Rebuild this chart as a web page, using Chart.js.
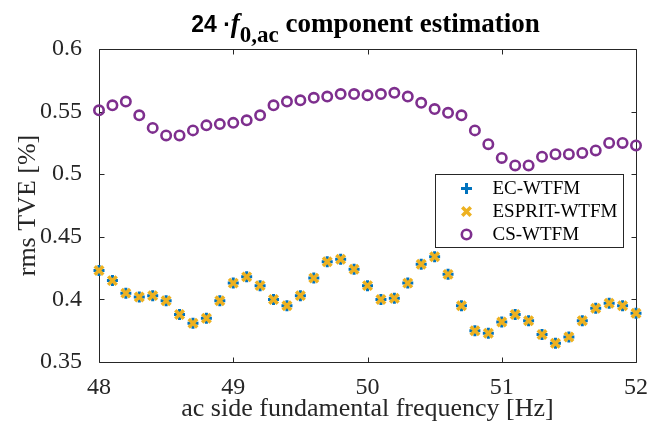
<!DOCTYPE html>
<html>
<head>
<meta charset="utf-8">
<title>24 ·f0,ac component estimation</title>
<script src="https://cdn.jsdelivr.net/npm/chart.js@4.4.1/dist/chart.umd.min.js"></script>
<style>
  html, body { margin: 0; padding: 0; background: #fff; }
  #wrap { position: relative; width: 672px; height: 426px; }
  #chart-title {
    position: absolute; left: 0; top: 10px; width: 731px;
    text-align: center; white-space: nowrap; color: #000;
    font: bold 27px/26px "Liberation Serif", "Times New Roman", serif;
  }
  #chart-title .num { font-family: "Liberation Sans", Arial, sans-serif; font-size: 23px; }
  #chart-title i { font-style: italic; }
  #chart-title sub { font-size: 23px; line-height: 0; vertical-align: -10px; }
  #chart-tve { position: absolute; left: 0; top: 0; }
</style>
</head>
<body>
<div id="wrap">
  <canvas id="chart-tve" width="672" height="426"></canvas>
  <div id="chart-title"><span class="num">24 ·</span><i>f</i><sub>0,ac</sub> component estimation</div>
</div>
<script>
(function () {
  var freqHz = [48.0, 48.1, 48.2, 48.3, 48.4, 48.5, 48.6, 48.7, 48.8, 48.9,
    49.0, 49.1, 49.2, 49.3, 49.4, 49.5, 49.6, 49.7, 49.8, 49.9,
    50.0, 50.1, 50.2, 50.3, 50.4, 50.5, 50.6, 50.7, 50.8, 50.9,
    51.0, 51.1, 51.2, 51.3, 51.4, 51.5, 51.6, 51.7, 51.8, 51.9, 52.0];

  // rms TVE [%]
  var ecWtfm = [0.423, 0.415, 0.405, 0.402, 0.403, 0.399, 0.388, 0.381, 0.385, 0.399,
    0.413, 0.418, 0.411, 0.400, 0.395, 0.403, 0.417, 0.430, 0.432, 0.424,
    0.411, 0.400, 0.401, 0.413, 0.428, 0.434, 0.420, 0.395, 0.375, 0.373,
    0.382, 0.388, 0.383, 0.372, 0.365, 0.370, 0.383, 0.393, 0.397, 0.395, 0.389];
  var espritWtfm = [0.423, 0.415, 0.405, 0.402, 0.403, 0.399, 0.388, 0.381, 0.385, 0.399,
    0.413, 0.418, 0.411, 0.400, 0.395, 0.403, 0.417, 0.430, 0.432, 0.424,
    0.411, 0.400, 0.401, 0.413, 0.428, 0.434, 0.420, 0.395, 0.375, 0.373,
    0.382, 0.388, 0.383, 0.372, 0.365, 0.370, 0.383, 0.393, 0.397, 0.395, 0.389];
  var csWtfm = [0.551, 0.555, 0.558, 0.547, 0.537, 0.531, 0.531, 0.535, 0.539, 0.540,
    0.541, 0.543, 0.547, 0.555, 0.558, 0.559, 0.561, 0.562, 0.564, 0.564,
    0.563, 0.564, 0.565, 0.562, 0.557, 0.552, 0.549, 0.547, 0.535, 0.524,
    0.513, 0.507, 0.507, 0.514, 0.516, 0.516, 0.517, 0.519, 0.525, 0.525, 0.523];

  var seriesNames = ["EC-WTFM", "ESPRIT-WTFM", "CS-WTFM"];
  var xTickValues = [48, 49, 50, 51, 52];
  var xTickLabels = ["48", "49", "50", "51", "52"];
  var yTickValues = [0.35, 0.4, 0.45, 0.5, 0.55, 0.6];
  var yTickLabels = ["0.35", "0.4", "0.45", "0.5", "0.55", "0.6"];

  var serif = '"Liberation Serif", "Times New Roman", serif';
  var axisColor = "#262626";

  var markerStyles = [
    { pointStyle: "cross", radius: 5.5, borderWidth: 3, color: "#0072BD", order: 3 },
    { pointStyle: "crossRot", radius: 6, borderWidth: 3.5, color: "#EDB120", order: 2 },
    { pointStyle: "circle", radius: 4.7, borderWidth: 2.6, color: "#7E2F8E", order: 1 },
  ];

  function toPoints(ys) {
    return freqHz.map(function (x, i) {
      return { x: x, y: ys[i] };
    });
  }

  function makeDataset(i, values) {
    var s = markerStyles[i];
    return {
      label: seriesNames[i],
      data: toPoints(values),
      pointStyle: s.pointStyle,
      pointRadius: s.radius,
      pointHoverRadius: s.radius,
      pointBorderWidth: s.borderWidth,
      pointHoverBorderWidth: s.borderWidth,
      borderColor: s.color,
      pointBorderColor: s.color,
      pointBackgroundColor: "rgba(0,0,0,0)",
      showLine: false,
      clip: false,
      order: s.order,
    };
  }

  // matlab style box with inward ticks on all four sides
  var boxPlugin = {
    id: "boxAxes",
    beforeDatasetsDraw: function (chart) {
      var ctx = chart.ctx;
      var a = chart.chartArea;
      var xs = chart.scales.x;
      var ys = chart.scales.y;
      var tl = 5;
      var l = Math.round(a.left) + 0.5, r = Math.round(a.right) + 0.5;
      var t = Math.round(a.top) + 0.5, b = Math.round(a.bottom) + 0.5;
      ctx.save();
      ctx.strokeStyle = axisColor;
      ctx.lineWidth = 1;
      ctx.beginPath();
      ctx.rect(l, t, r - l, b - t);
      xs.ticks.forEach(function (tk) {
        var px = Math.round(xs.getPixelForValue(tk.value)) + 0.5;
        ctx.moveTo(px, b); ctx.lineTo(px, b - tl);
        ctx.moveTo(px, t); ctx.lineTo(px, t + tl);
      });
      ys.ticks.forEach(function (tk) {
        var py = Math.round(ys.getPixelForValue(tk.value)) + 0.5;
        ctx.moveTo(l, py); ctx.lineTo(l + tl, py);
        ctx.moveTo(r, py); ctx.lineTo(r - tl, py);
      });
      ctx.stroke();
      ctx.restore();
    },
  };

  var legendPlugin = {
    id: "insideLegend",
    afterDatasetsDraw: function (chart) {
      var ctx = chart.ctx;
      var a = chart.chartArea;
      var w = 188, h = 73;
      var x0 = Math.round(a.right) - 13 - w + 0.5;
      var y0 = Math.round(a.top) + 125 + 0.5;
      var rows = [14, 37, 60];
      ctx.save();
      ctx.fillStyle = "#fff";
      ctx.strokeStyle = axisColor;
      ctx.lineWidth = 1;
      ctx.fillRect(x0, y0, w, h);
      ctx.strokeRect(x0, y0, w, h);
      ctx.font = "19px " + serif;
      ctx.textAlign = "left";
      ctx.textBaseline = "middle";
      seriesNames.forEach(function (name, i) {
        var s = markerStyles[i];
        var cy = y0 + rows[i];
        ctx.strokeStyle = s.color;
        ctx.fillStyle = "rgba(0,0,0,0)";
        ctx.lineWidth = s.borderWidth;
        Chart.helpers.drawPoint(ctx, {
          pointStyle: s.pointStyle, radius: s.radius, borderWidth: s.borderWidth, rotation: 0,
        }, x0 + 31, cy);
        ctx.fillStyle = "#000";
        ctx.fillText(name, x0 + 57, cy + 1);
      });
      ctx.restore();
    },
  };

  function boot() {
    if (!window.Chart) return;
    var canvas = document.getElementById("chart-tve");
    new Chart(canvas, {
      type: "scatter",
      data: {
        datasets: [
          makeDataset(0, ecWtfm),
          makeDataset(1, espritWtfm),
          makeDataset(2, csWtfm),
        ],
      },
      options: {
        responsive: false,
        animation: false,
        devicePixelRatio: 1,
        layout: { padding: { top: 49, right: 36, left: 0, bottom: 0 } },
        plugins: {
          legend: { display: false },
          title: { display: false },
          tooltip: { enabled: false },
        },
        scales: {
          x: {
            type: "linear",
            min: 48,
            max: 52,
            grid: { display: false },
            border: { display: false },
            afterBuildTicks: function (scale) {
              scale.ticks = xTickValues.map(function (v) { return { value: v }; });
            },
            afterFit: function (scale) { scale.height = 64; },
            ticks: {
              padding: 3,
              color: axisColor,
              font: { family: serif, size: 24 },
              maxRotation: 0,
              callback: function (value, index) { return xTickLabels[index]; },
            },
            title: {
              display: true,
              text: "ac side fundamental frequency [Hz]",
              color: axisColor,
              font: { family: serif, size: 26, lineHeight: 1 },
              padding: { top: 0, bottom: 4 },
            },
          },
          y: {
            type: "linear",
            min: 0.35,
            max: 0.6,
            grid: { display: false },
            border: { display: false },
            afterBuildTicks: function (scale) {
              scale.ticks = yTickValues.map(function (v) { return { value: v }; });
            },
            afterFit: function (scale) { scale.width = 99; },
            ticks: {
              padding: 9,
              color: axisColor,
              font: { family: serif, size: 24 },
              callback: function (value, index) { return yTickLabels[index]; },
            },
            title: {
              display: true,
              text: "rms TVE [%]",
              color: axisColor,
              font: { family: serif, size: 26, lineHeight: 1 },
              padding: { top: 15, bottom: 0 },
            },
          },
        },
      },
      plugins: [boxPlugin, legendPlugin],
    });
  }

  if (document.readyState === "loading") {
    document.addEventListener("DOMContentLoaded", boot);
  } else {
    boot();
  }
})();
</script>
</body>
</html>
